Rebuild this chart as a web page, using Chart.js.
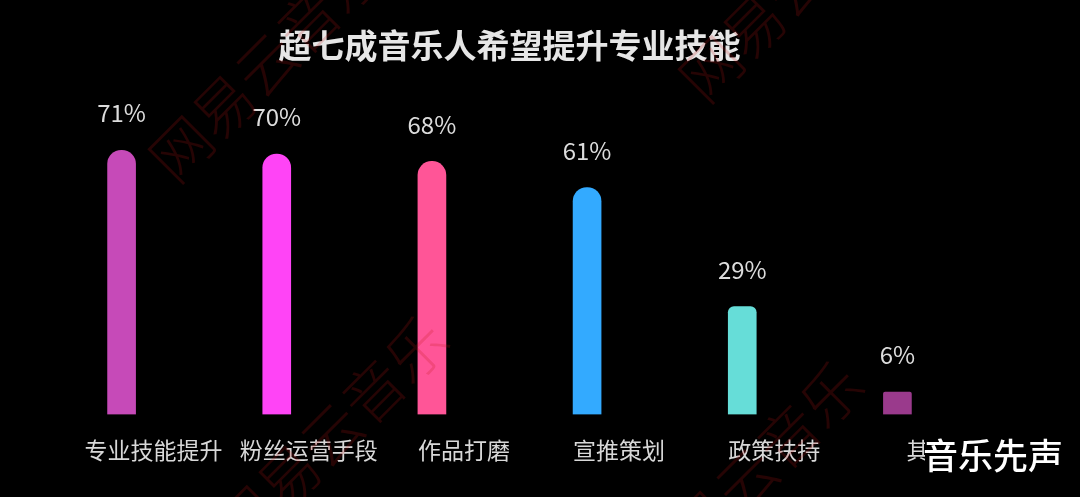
<!DOCTYPE html>
<html>
<head>
<meta charset="utf-8">
<script src="https://cdn.jsdelivr.net/npm/chart.js@4/dist/chart.umd.min.js"></script>
<style>
    html, body { margin: 0; padding: 0; background: #000; }
    #wrap { width: 1080px; height: 497px; }
</style>
</head>
<body>
<div id="wrap"><canvas id="skillChart"></canvas></div>
<script>
// Chart data
const categories = ['专业技能提升', '粉丝运营手段', '作品打磨', '宣推策划', '政策扶持', '其他'];
const shares = [71, 70, 68, 61, 29, 6];
const barColors = ['#C64AB8', '#FF44F6', '#FF5597', '#33AAFF', '#66DDD8', '#9A3A8C'];

const CJK = '"Noto Sans CJK SC", "Noto Sans", sans-serif';

// Faint diagonal watermark + corner signature
const watermarkPlugin = {
    id: 'watermark',
    afterDraw(chart) {
        const ctx = chart.ctx;
        ctx.save();
        ctx.font = '300 60px ' + CJK;
        ctx.fillStyle = 'rgba(190, 20, 20, 0.2)';
        ctx.textAlign = 'left';
        ctx.textBaseline = 'middle';
        [[160, 170], [225, 540], [640, 585], [690, 90]].forEach(([x, y]) => {
            ctx.save();
            ctx.translate(x, y);
            ctx.rotate(-Math.PI / 4);
            ctx.fillText('网易云音乐', 0, 0);
            ctx.restore();
        });
        ctx.restore();

        ctx.save();
        ctx.font = '500 35px ' + CJK;
        ctx.textAlign = 'center';
        ctx.textBaseline = 'middle';
        ctx.fillStyle = '#000';
        ctx.fillRect(925, 436, 150, 40);
        ctx.fillStyle = '#fff';
        ctx.fillText('音乐先声', 993, 456);
        ctx.restore();
    }
};

// Percent labels above bars
const valueLabels = {
    id: 'valueLabels',
    afterDatasetsDraw(chart) {
        const ctx = chart.ctx;
        const meta = chart.getDatasetMeta(0);
        ctx.save();
        ctx.font = '24px ' + CJK;
        ctx.fillStyle = '#dcdcdc';
        ctx.textAlign = 'center';
        ctx.textBaseline = 'middle';
        meta.data.forEach((bar, i) => {
            ctx.fillText(shares[i] + '%', bar.x, bar.y - 37);
        });
        ctx.restore();
    }
};

new Chart(document.getElementById('skillChart'), {
    type: 'bar',
    data: {
        labels: categories,
        datasets: [{
            data: shares,
            backgroundColor: barColors,
            borderWidth: 0,
            borderSkipped: 'bottom',
            barThickness: 28,
            borderRadius: ctx => [14, 14, 14, 14, 6, 2][ctx.dataIndex]
        }]
    },
    options: {
        responsive: true,
        maintainAspectRatio: false,
        animation: false,
        layout: {
            padding: { left: 44, right: 105, top: 0, bottom: 11 }
        },
        scales: {
            x: {
                grid: { display: false, drawTicks: false },
                border: { display: false },
                ticks: {
                    color: '#d8d8d8',
                    font: { family: CJK, size: 23 },
                    padding: 22,
                    labelOffset: 32,
                    maxRotation: 0,
                    autoSkip: false
                }
            },
            y: {
                display: false,
                min: 0,
                max: 90
            }
        },
        plugins: {
            legend: { display: false },
            tooltip: { enabled: false },
            title: {
                display: true,
                fullSize: false,
                text: '超七成音乐人希望提升专业技能',
                color: '#e6e6e6',
                font: { family: CJK, size: 33, weight: 'bold' },
                padding: { top: 26, bottom: 14 }
            }
        }
    },
    plugins: [valueLabels, watermarkPlugin]
});
</script>
</body>
</html>
